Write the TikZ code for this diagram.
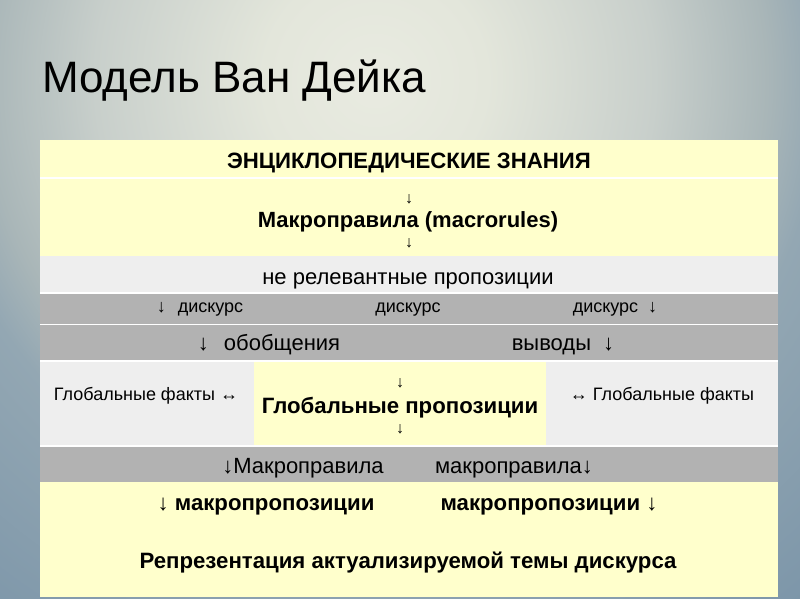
\documentclass[tikz,border=0pt]{standalone}
\usepackage{fontspec}
\setmainfont{Liberation Sans}
\definecolor{bglight}{HTML}{E9EBE1}
\definecolor{bgone}{HTML}{E3E6DB}
\definecolor{bgmid}{HTML}{C8CFCB}
\definecolor{bgtwo}{HTML}{A9B6B8}
\definecolor{bgdark}{HTML}{93A7B3}
\definecolor{bgdeep}{HTML}{7A94A8}
\definecolor{cyellow}{HTML}{FFFFCC}
\definecolor{clgrey}{HTML}{EEEEEE}
\definecolor{cgrey}{HTML}{B2B2B2}
\pgfdeclareradialshading{bgshade}{\pgfpoint{0bp}{0bp}}{color(0bp)=(bglight); color(4bp)=(bgone); color(10bp)=(bgmid); color(14bp)=(bgtwo); color(16bp)=(bgdark); color(25bp)=(bgdeep); color(50bp)=(bgdeep)}
\newcommand{\fsz}[1]{\fontsize{#1}{#1}\selectfont}
\begin{document}
\begin{tikzpicture}[x=1pt,y=-1pt,
  txt/.style={inner sep=0pt, anchor=base, text=black},
  bx/.style={txt, font=\fsz{22.2}\bfseries},
  arr/.style={inner sep=0pt, anchor=center, font=\fsz{16}},
  sep/.style={white, line width=1.5pt}]
\useasboundingbox (0,0) rectangle (800,599);
\begin{scope}
  \clip (0,0) rectangle (800,599);
  \fill[bgdeep] (0,0) rectangle (800,599);
  \shade[shading=bgshade] (375,80) circle (700pt);
\end{scope}
% title
\node[inner sep=0pt, anchor=base west, font=\fsz{44}] (title) at (42,93) {Модель Ван Дейка};
% cells
\fill[cyellow] (40,140) rectangle (778,256);
\fill[clgrey] (40,256) rectangle (778,293);
\fill[cgrey] (40,293) rectangle (778,361);
\fill[clgrey] (40,361) rectangle (254,446);
\fill[cyellow] (254,361) rectangle (546,446);
\fill[clgrey] (546,361) rectangle (778,446);
\fill[cgrey] (40,446) rectangle (778,482);
\fill[cyellow] (40,482) rectangle (778,597);
\foreach \yy in {178,293,324.5,361,446}{\draw[sep] (40,\yy) -- (778,\yy);}
% row 1
\node[bx, font=\fsz{22.2}\bfseries] (t1) at (409,168) {ЭНЦИКЛОПЕДИЧЕСКИЕ ЗНАНИЯ};
% row 2
\node[arr] (a2a) at (409,199) {↓};
\node[bx, font=\fsz{22}\bfseries] (t2) at (408,227) {Макроправила (macrorules)};
\node[arr] (a2b) at (409,243) {↓};
% row 3
\node[txt, font=\fsz{22}] (t3) at (408,284) {не релевантные пропозиции};
% row 4
\node[txt, font=\fsz{18}] (t4a) at (200,312) {↓\hspace{7pt} дискурс};
\node[txt, font=\fsz{18}] (t4b) at (408,312) {дискурс};
\node[txt, font=\fsz{18}] (t4c) at (615,312) {дискурс\hspace{5pt} ↓};
% row 5
\node[txt, font=\fsz{22}] (t5a) at (269,350) {↓\hspace{9pt} обобщения};
\node[txt, font=\fsz{22}] (t5b) at (563,350) {выводы\hspace{6pt} ↓};
% row 6
\node[txt, font=\fsz{18}] (t6a) at (146,400) {Глобальные факты ↔};
\node[arr] (a6a) at (400,383) {↓};
\node[bx] (t6b) at (400,413) {Глобальные пропозиции};
\node[arr] (a6b) at (400,429) {↓};
\node[txt, font=\fsz{18}] (t6c) at (662,400) {↔ Глобальные факты};
% row 7
\node[txt, font=\fsz{22}] (t7a) at (303,473) {↓Макроправила};
\node[txt, font=\fsz{22}] (t7b) at (514,473) {макроправила↓};
% row 8
\node[bx] (t8a) at (266,510) {↓ макропропозиции};
\node[bx] (t8b) at (549,510) {макропропозиции ↓};
\node[bx] (t8c) at (408,568) {Репрезентация актуализируемой темы дискурса};
\end{tikzpicture}
\end{document}
